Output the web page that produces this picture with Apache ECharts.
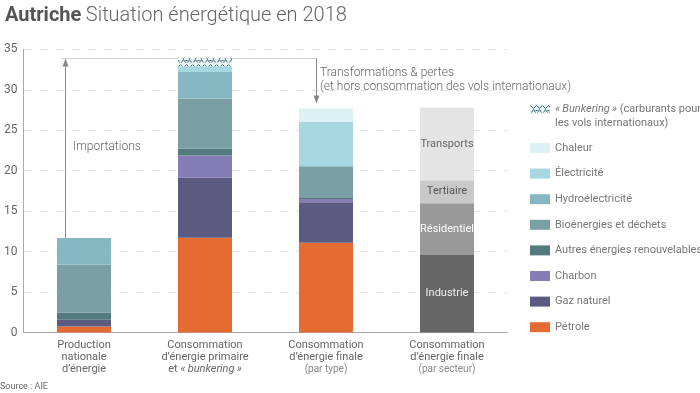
<!DOCTYPE html>
<html><head><meta charset="utf-8">
<script src="https://cdn.jsdelivr.net/npm/echarts@6/dist/echarts.min.js"></script>
<style>html,body{margin:0;padding:0;background:#fff}#c{width:700px;height:393px}</style>
</head><body><div id="c"></div>
<script>
// ---- Data ----
const categories = ['production', 'primaire', 'finaleType', 'finaleSecteur'];
const tickLabels = [
  'Production\nnationale\nd’énergie',
  'Consommation\nd’énergie primaire\net {i|«\u2009bunkering\u2009»}',
  'Consommation\nd’énergie finale\n{s|(par type)}',
  'Consommation\nd’énergie finale\n{s|(par secteur)}'
];
const petrole      = [0.74, 11.72, 11.10, null];
const gazNaturel   = [0.83, 7.43, 4.99, null];
const charbon      = [0, 2.72, 0.41, null];
const autresRenouv = [0.91, 0.87, 0.21, null];
const bioenergies  = [5.90, 6.18, 3.83, null];
const hydro        = [3.30, 3.26, 0, null];
const electricite  = [0, 0.74, 5.46, null];
const chaleur      = [0, 0, 1.69, null];
const bunkering    = [0, 1.04, 0, null];
const industrie    = [null, null, null, 9.58];
const residentiel  = [null, null, null, 6.39];
const tertiaire    = [null, null, null, 2.85];
const transports   = [null, null, null, 8.95];
const yTicks = {min: 0, max: 35, interval: 5};

// ---- pattern for bunkering ----
function makePattern() {
  const c = document.createElement('canvas');
  c.width = 12; c.height = 9;
  const g = c.getContext('2d');
  g.fillStyle = '#eaf4f5'; g.fillRect(0, 0, 12, 9);
  g.strokeStyle = '#3d6670'; g.lineWidth = 1;
  const segs = [[0,1,3,4],[3,4,6,1],[6,1,9,4],[9,4,12,1],[1,8,3,5],[3,5,5,8],[7,8,9,5],[9,5,11,8],[5,6,7,6]];
  g.beginPath();
  segs.forEach(s => { g.moveTo(s[0]+0.5, s[1]+0.5); g.lineTo(s[2]+0.5, s[3]+0.5); });
  g.stroke();
  return {image: c, repeat: 'repeat'};
}
const pattern = makePattern();

const FONT = 'Roboto';
const chart = echarts.init(document.getElementById('c'), null, {renderer: 'canvas'});

function bar(name, data, color, extra) {
  return Object.assign({
    name, type: 'bar', stack: 'tot', data, barWidth: 54,
    itemStyle: {color}, emphasis: {disabled: true}
  }, extra || {});
}
function sectorBar(name, data, color, labelColor) {
  return bar(name, data, color, {
    label: {show: true, position: 'inside', formatter: name, color: labelColor,
      fontFamily: FONT, fontSize: 11, overflow: 'none', width: 80}
  });
}

const option = {
  animation: false,
  textStyle: {fontFamily: FONT},
  title: {
    text: '{b|Autriche} {l|Situation énergétique en 2018}',
    left: 0, top: 1,
    textStyle: {
      rich: {
        b: {fontFamily: FONT, fontSize: 20, fontWeight: 'bold', color: '#555'},
        l: {fontFamily: FONT, fontSize: 20, fontWeight: 300, color: '#666'}
      }
    }
  },
  grid: {left: 23.5, right: 192.5, top: 49.3, bottom: 60.5, containLabel: false},
  xAxis: {
    type: 'category', data: categories,
    axisLine: {lineStyle: {color: '#aaa'}},
    axisTick: {show: false},
    axisLabel: {
      interval: 0, margin: 7,
      formatter: (v, i) => tickLabels[i],
      color: '#666', fontFamily: FONT, fontSize: 11, lineHeight: 12,
      rich: {
        i: {fontStyle: 'italic', color: '#666', fontFamily: FONT, fontSize: 11, lineHeight: 12},
        s: {color: '#888', fontFamily: FONT, fontSize: 10, lineHeight: 12}
      }
    }
  },
  yAxis: {
    type: 'value', min: yTicks.min, max: yTicks.max, interval: yTicks.interval,
    axisLine: {show: true, lineStyle: {color: '#aaa'}},
    axisTick: {show: false},
    axisLabel: {color: '#666', fontFamily: FONT, fontSize: 12, margin: 6},
    splitLine: {lineStyle: {color: '#e3e3e3', type: [8, 8]}}
  },
  legend: [
    {
      orient: 'vertical', left: 525, top: 97,
      itemWidth: 20, itemHeight: 10, itemGap: 11.6, icon: 'rect',
      selectedMode: false,
      data: ['bunkering'],
      formatter: () => '{i|«\u2009Bunkering\u2009»} (carburants pour',
      textStyle: {color: '#777', fontFamily: FONT, fontSize: 11, lineHeight: 14,
        rich: {i: {fontStyle: 'italic', color: '#777', fontFamily: FONT, fontSize: 11, lineHeight: 14}}}
    },
    {
      orient: 'vertical', left: 525, top: 136,
      itemWidth: 20, itemHeight: 10, itemGap: 11.6, icon: 'rect',
      selectedMode: false,
      data: ['Chaleur', 'Électricité', 'Hydroélectricité', 'Bioénergies et déchets',
             'Autres énergies renouvelables', 'Charbon', 'Gaz naturel', 'Pétrole'],
      textStyle: {color: '#777', fontFamily: FONT, fontSize: 11, lineHeight: 14}
    }
  ],
  series: [
    bar('Pétrole', petrole, '#e46c32'),
    bar('Gaz naturel', gazNaturel, '#5b5a80'),
    bar('Charbon', charbon, '#857db5'),
    bar('Autres énergies renouvelables', autresRenouv, '#537a7f'),
    bar('Bioénergies et déchets', bioenergies, '#7aa0a6'),
    bar('Hydroélectricité', hydro, '#86b8c3'),
    bar('Électricité', electricite, '#a7d8e2'),
    bar('Chaleur', chaleur, '#dcf1f4'),
    bar('bunkering', bunkering, pattern),
    sectorBar('Industrie', industrie, '#666666', '#eeeeee'),
    sectorBar('Résidentiel', residentiel, '#999999', '#ffffff'),
    sectorBar('Tertiaire', tertiaire, '#c9c9c9', '#555555'),
    sectorBar('Transports', transports, '#e4e4e4', '#666666')
  ]
};
chart.setOption(option);

// ---- annotations anchored on the axes ----
const sumCol = (i) => [petrole, gazNaturel, charbon, autresRenouv, bioenergies, hydro, electricite, chaleur, bunkering]
  .reduce((s, a) => s + (a[i] || 0), 0);
const px = (ci, v) => chart.convertToPixel({gridIndex: 0}, [ci, v]);
const prodTop = px(0, sumCol(0));
const primTop = px(1, sumCol(1));
const finTop = px(2, sumCol(2));
const x1 = Math.round(prodTop[0] - 19) + 0.5;
const x2 = Math.round(finTop[0] - 10) + 0.5;
const yP = Math.round(primTop[1]) + 0.5;
const yF = finTop[1];
const grey = '#888';
chart.setOption({
  graphic: [
    {type: 'line', silent: true, shape: {x1: x1 - 4, y1: yP, x2: x2, y2: yP}, style: {stroke: '#cfcfcf', lineWidth: 1}},
    {type: 'line', silent: true, shape: {x1: x1, y1: prodTop[1], x2: x1, y2: yP + 4}, style: {stroke: grey, lineWidth: 1}},
    {type: 'polygon', silent: true, shape: {points: [[x1, yP], [x1 - 3, yP + 8], [x1 + 3, yP + 8]]}, style: {fill: grey}},
    {type: 'line', silent: true, shape: {x1: x2, y1: yP, x2: x2, y2: yF - 9}, style: {stroke: grey, lineWidth: 1}},
    {type: 'polygon', silent: true, shape: {points: [[x2, yF - 5], [x2 - 3, yF - 13], [x2 + 3, yF - 13]]}, style: {fill: grey}},
    {type: 'text', silent: true, left: 73, top: 141,
      style: {text: 'Importations', fill: '#666', font: '300 12px Roboto'}},
    {type: 'text', silent: true, left: 320, top: 66,
      style: {text: 'Transformations & pertes\n(et hors consommation des vols internationaux)', fill: '#666', font: '300 12px Roboto', lineHeight: 14}},
    {type: 'text', silent: true, left: 555, top: 116,
      style: {text: 'les vols internationaux)', fill: '#777', font: '11px Roboto', lineHeight: 14}},
    {type: 'text', silent: true, left: 0, top: 382,
      style: {text: 'Source : AIE', fill: '#666', font: '9px Roboto'}}
  ]
});
</script></body></html>
